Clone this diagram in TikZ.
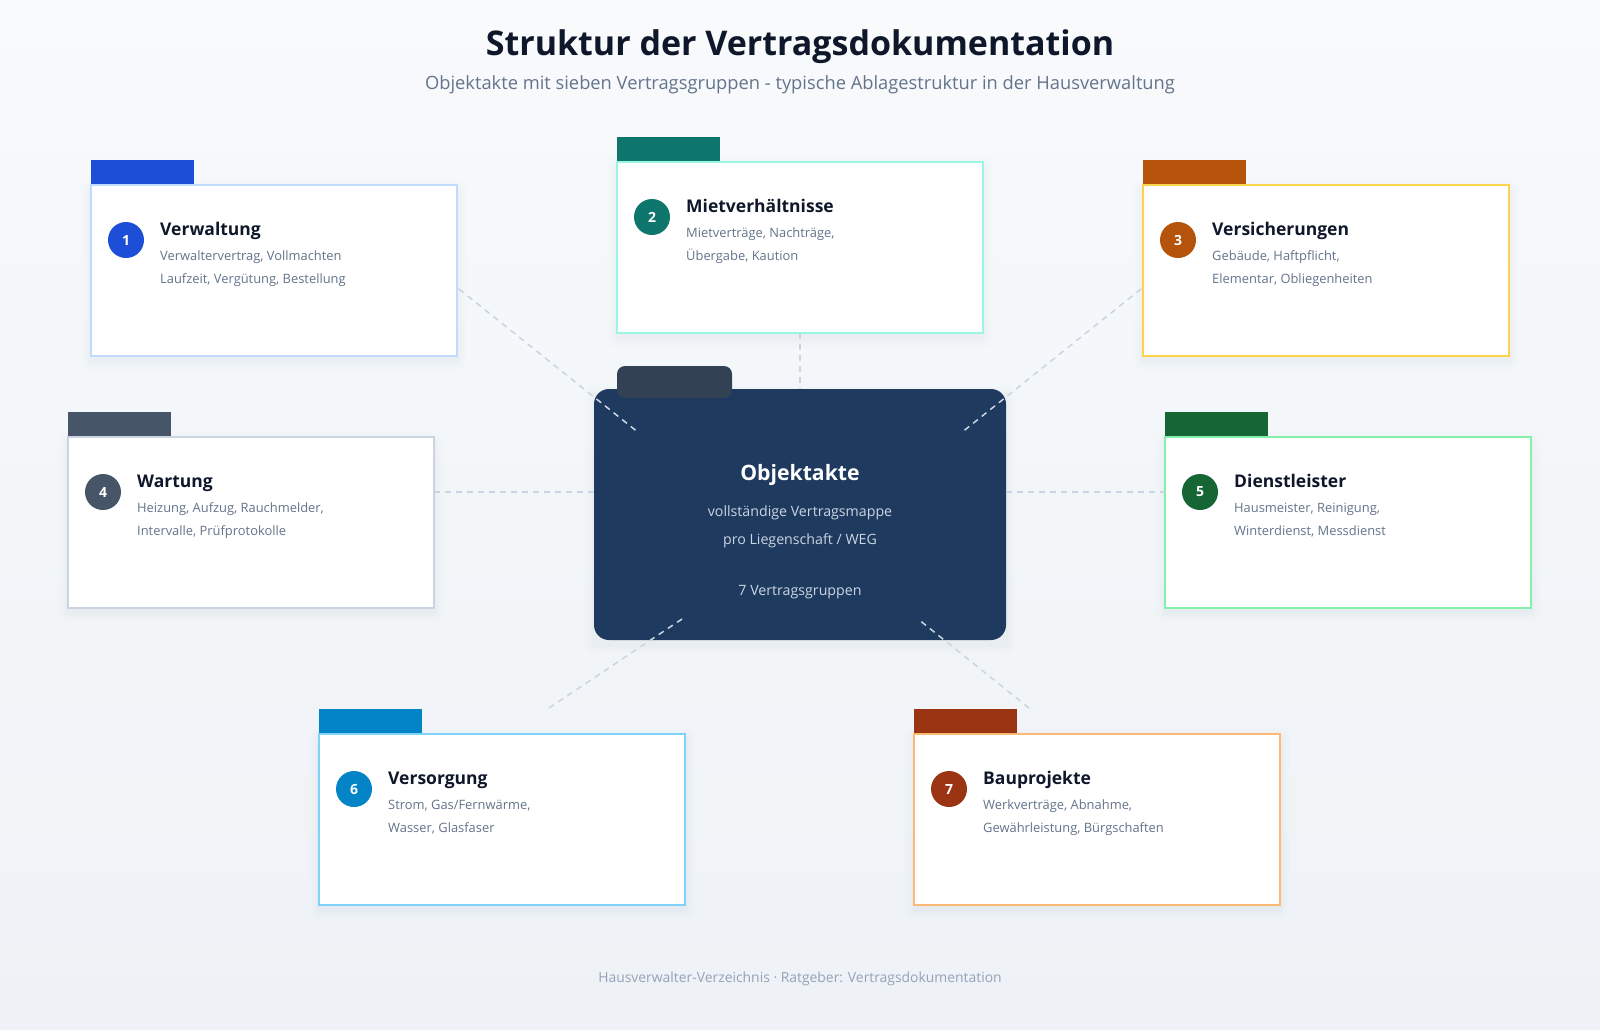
\documentclass[tikz,border=0pt]{standalone}
\usepackage{fontspec}
\setmainfont{Open Sans}
\usetikzlibrary{calc}
\definecolor{bgtop}{HTML}{F8FAFC}
\definecolor{bgbot}{HTML}{EEF2F6}
\definecolor{titlecol}{HTML}{0F172A}
\definecolor{subcol}{HTML}{64748B}
\definecolor{footcol}{HTML}{94A3B8}
\definecolor{navy}{HTML}{1E3A5F}
\definecolor{navytab}{HTML}{334155}
\definecolor{conncol}{HTML}{CBD5E1}
\definecolor{centertxt}{HTML}{CBD5E1}
\definecolor{shadowcol}{HTML}{94A3B8}
\definecolor{tabA}{HTML}{1D4ED8}\definecolor{brdA}{HTML}{BFDBFE}
\definecolor{tabB}{HTML}{0F766E}\definecolor{brdB}{HTML}{99F6E4}
\definecolor{tabC}{HTML}{B45309}\definecolor{brdC}{HTML}{FCD34D}
\definecolor{tabD}{HTML}{475569}\definecolor{brdD}{HTML}{CBD5E1}
\definecolor{tabE}{HTML}{166534}\definecolor{brdE}{HTML}{86EFAC}
\definecolor{tabF}{HTML}{0284C7}\definecolor{brdF}{HTML}{7DD3FC}
\definecolor{tabG}{HTML}{9A3412}\definecolor{brdG}{HTML}{FDBA74}
\tikzset{
  cardbox/.style={fill=white, line width=1.6pt, minimum width=366, minimum height=171,
    anchor=north west, inner sep=0pt, outer sep=0pt},
  numcirc/.style={circle, minimum size=36, inner sep=0pt, text=white,
    font=\bfseries\fontsize{14}{14}\selectfont},
  cardtitle/.style={anchor=base west, inner sep=0pt, text=titlecol,
    font=\bfseries\fontsize{17.5}{22}\selectfont},
  carddesc/.style={anchor=base west, inner sep=0pt, text=subcol,
    font=\fontsize{12.9}{15}\selectfont},
  conn/.style={draw=conncol, line width=1.5pt, dash pattern=on 6pt off 5pt},
  centertitle/.style={anchor=base, inner sep=0pt, text=white, font=\bfseries\fontsize{21.2}{26}\selectfont},
  centerdesc/.style={anchor=base, inner sep=0pt, text=centertxt, font=\fontsize{14.2}{17}\selectfont}
}
% soft shadow under a rectangle: x0,y0,x1,y1
\newcommand{\softshadow}[4]{%
  \foreach \s/\o in {10/0.012,7/0.018,4/0.025,2/0.03}{%
    \fill[shadowcol, opacity=\o, rounded corners=\s pt] (#1-\s,#2-\s+5) rectangle (#3+\s,#4+\s+5);
  }%
}
% name, x0, y0, colour letter, number, title, line1, line2
\newcommand{\mycard}[8]{%
  \softshadow{#2}{#3}{#2+366}{#3+171}
  \fill[tab#4] (#2,#3-25) rectangle (#2+103,#3);
  \node[cardbox, draw=brd#4] (#1) at (#2,#3) {};
  \node[numcirc, fill=tab#4] (#1num) at (#2+35,#3+55) {#5};
  \node[cardtitle] (#1title) at (#2+69,#3+50) {#6};
  \node[carddesc] (#1la) at (#2+69,#3+75) {#7};
  \node[carddesc] (#1lb) at (#2+69,#3+98) {#8};
}
\begin{document}
\begin{tikzpicture}[x=1pt,y=-1pt]
\shade[top color=bgtop, bottom color=bgbot] (0,0) rectangle (1600,1029);
\useasboundingbox (0,0) rectangle (1600,1029);

\node[anchor=base, inner sep=0pt, text=titlecol, font=\bfseries\fontsize{34}{40}\selectfont] (title) at (800,55) {Struktur der Vertragsdokumentation};
\node[anchor=base, inner sep=0pt, text=subcol, font=\fontsize{18.3}{22}\selectfont] (subtitle) at (800,89) {Objektakte mit sieben Vertragsgruppen - typische Ablagestruktur in der Hausverwaltung};

% central folder
\softshadow{594}{389}{1006}{640}
\node[fill=navy, rounded corners=15pt, minimum width=412, minimum height=251, anchor=north west, inner sep=0pt, outer sep=0pt] (obj) at (594,389) {};
\fill[navytab, rounded corners=8pt] (617,366) rectangle (732,398);
\node[centertitle] (objtitle) at (800,480) {Objektakte};
\node[centerdesc] (objla) at (800,516) {vollständige Vertragsmappe};
\node[centerdesc] (objlb) at (800,544) {pro Liegenschaft / WEG};
\node[centerdesc] (objlc) at (800,595) {7 Vertragsgruppen};

% cards
\mycard{cardA}{91}{185}{A}{1}{Verwaltung}{Verwaltervertrag, Vollmachten}{Laufzeit, Vergütung, Bestellung}
\mycard{cardB}{617}{162}{B}{2}{Mietverhältnisse}{Mietverträge, Nachträge,}{Übergabe, Kaution}
\mycard{cardC}{1143}{185}{C}{3}{Versicherungen}{Gebäude, Haftpflicht,}{Elementar, Obliegenheiten}
\mycard{cardD}{68}{437}{D}{4}{Wartung}{Heizung, Aufzug, Rauchmelder,}{Intervalle, Prüfprotokolle}
\mycard{cardE}{1165}{437}{E}{5}{Dienstleister}{Hausmeister, Reinigung,}{Winterdienst, Messdienst}
\mycard{cardF}{319}{734}{F}{6}{Versorgung}{Strom, Gas/Fernwärme,}{Wasser, Glasfaser}
\mycard{cardG}{914}{734}{G}{7}{Bauprojekte}{Werkverträge, Abnahme,}{Gewährleistung, Bürgschaften}

% connectors
\draw[conn] (cardB.south) -- (obj.north);
\draw[conn] ($(cardD.north east)+(0,55)$) -- ($(obj.north west)+(0,103)$);
\draw[conn] ($(obj.north east)+(0,103)$) -- ($(cardE.north west)+(0,55)$);
\draw[conn] ($(cardA.north east)+(2,104)$) -- ($(obj.north west)+(45,44)$);
\draw[conn] ($(cardC.north west)+(-2,104)$) -- ($(obj.north east)+(-45,44)$);
\draw[conn] ($(cardF.north west)+(230,-26)$) -- ($(obj.south west)+(91,-23)$);
\draw[conn] ($(cardG.north west)+(115,-26)$) -- ($(obj.south east)+(-88,-21)$);

\node[anchor=base, inner sep=0pt, text=footcol, font=\fontsize{13.9}{16}\selectfont] (footer) at (800,982) {Hausverwalter-Verzeichnis · Ratgeber: Vertragsdokumentation};
\end{tikzpicture}
\end{document}
